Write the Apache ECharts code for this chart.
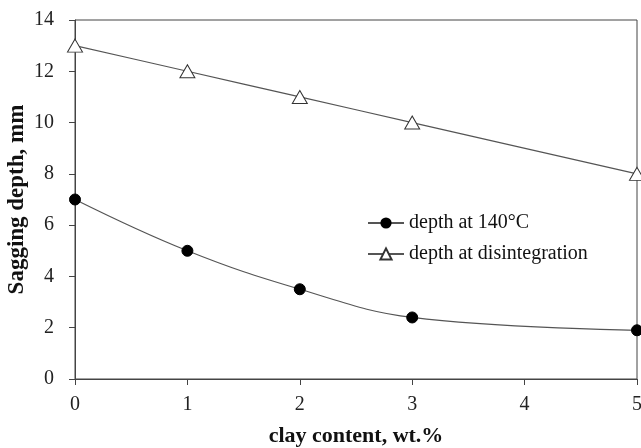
<!DOCTYPE html>
<html>
<head>
<meta charset="utf-8">
<script src="https://cdn.jsdelivr.net/npm/echarts@6/dist/echarts.min.js"></script>
<style>
  html, body { margin: 0; padding: 0; background: #fff; }
  #chart { width: 641px; height: 448px; }
</style>
</head>
<body>
<div id="chart"></div>
<script>
// Clay content (wt.%) and measured sagging depths (mm)
const clayAt140 = [0, 1, 2, 3, 5];
const depthAt140 = [7.0, 5.0, 3.5, 2.4, 1.9];
const clayDisint = [0, 1, 2, 3, 5];
const depthDisint = [13.0, 12.0, 11.0, 10.0, 8.0];
const seriesNames = ['depth at 140°C', 'depth at disintegration'];

const FONT = '"Liberation Serif", "Times New Roman", serif';
const INK = '#222';
const LINE = '#555';

const pairs = (xs, ys) => xs.map((x, i) => [x, ys[i]]);

const chart = echarts.init(document.getElementById('chart'), null, { renderer: 'canvas' });
chart.setOption({
  backgroundColor: '#fff',
  animation: false,
  grid: {
    left: 75, right: 4, top: 20, bottom: 69,
    outerBoundsMode: 'none', containLabel: false,
    show: true, borderColor: '#444', borderWidth: 1, backgroundColor: 'transparent'
  },
  legend: {
    orient: 'vertical',
    left: 367, top: 213, padding: 0,
    itemWidth: 36, itemHeight: 14, itemGap: 11,
    textStyle: { fontFamily: FONT, fontSize: 20, lineHeight: 20, color: '#111' },
    data: seriesNames
  },
  xAxis: {
    type: 'value', min: 0, max: 5, interval: 1,
    name: 'clay content, wt.%', nameLocation: 'middle', nameGap: 46,
    nameTextStyle: { fontFamily: FONT, fontSize: 22, fontWeight: 'bold', color: '#111' },
    axisLine: { show: true, lineStyle: { color: '#444', width: 1 } },
    axisTick: { show: true, inside: false, length: 6, lineStyle: { color: '#444' } },
    axisLabel: { fontFamily: FONT, fontSize: 20, color: INK, margin: 16 },
    splitLine: { show: false }
  },
  yAxis: {
    type: 'value', min: 0, max: 14, interval: 2,
    name: 'Sagging depth, mm', nameLocation: 'middle', nameGap: 46, nameRotate: 90,
    nameMoveOverlap: false,
    nameTextStyle: { fontFamily: FONT, fontSize: 23, fontWeight: 'bold', color: '#111' },
    axisLine: { show: true, lineStyle: { color: '#444', width: 1 } },
    axisTick: { show: true, inside: false, length: 6, lineStyle: { color: '#444' } },
    axisLabel: { fontFamily: FONT, fontSize: 20, color: INK, margin: 21 },
    splitLine: { show: false }
  },
  series: [
    {
      name: seriesNames[0], type: 'line', smooth: 0.4,
      data: pairs(clayAt140, depthAt140),
      symbol: 'circle', symbolSize: 11,
      itemStyle: { color: '#000', borderColor: '#000' },
      lineStyle: { color: LINE, width: 1.2 }
    },
    {
      name: seriesNames[1], type: 'line', smooth: 0.2,
      data: pairs(clayDisint, depthDisint),
      symbol: 'triangle', symbolSize: [15, 13],
      itemStyle: { color: '#fff', borderColor: '#333', borderWidth: 1 },
      lineStyle: { color: LINE, width: 1.2 }
    }
  ]
});
</script>
</body>
</html>
